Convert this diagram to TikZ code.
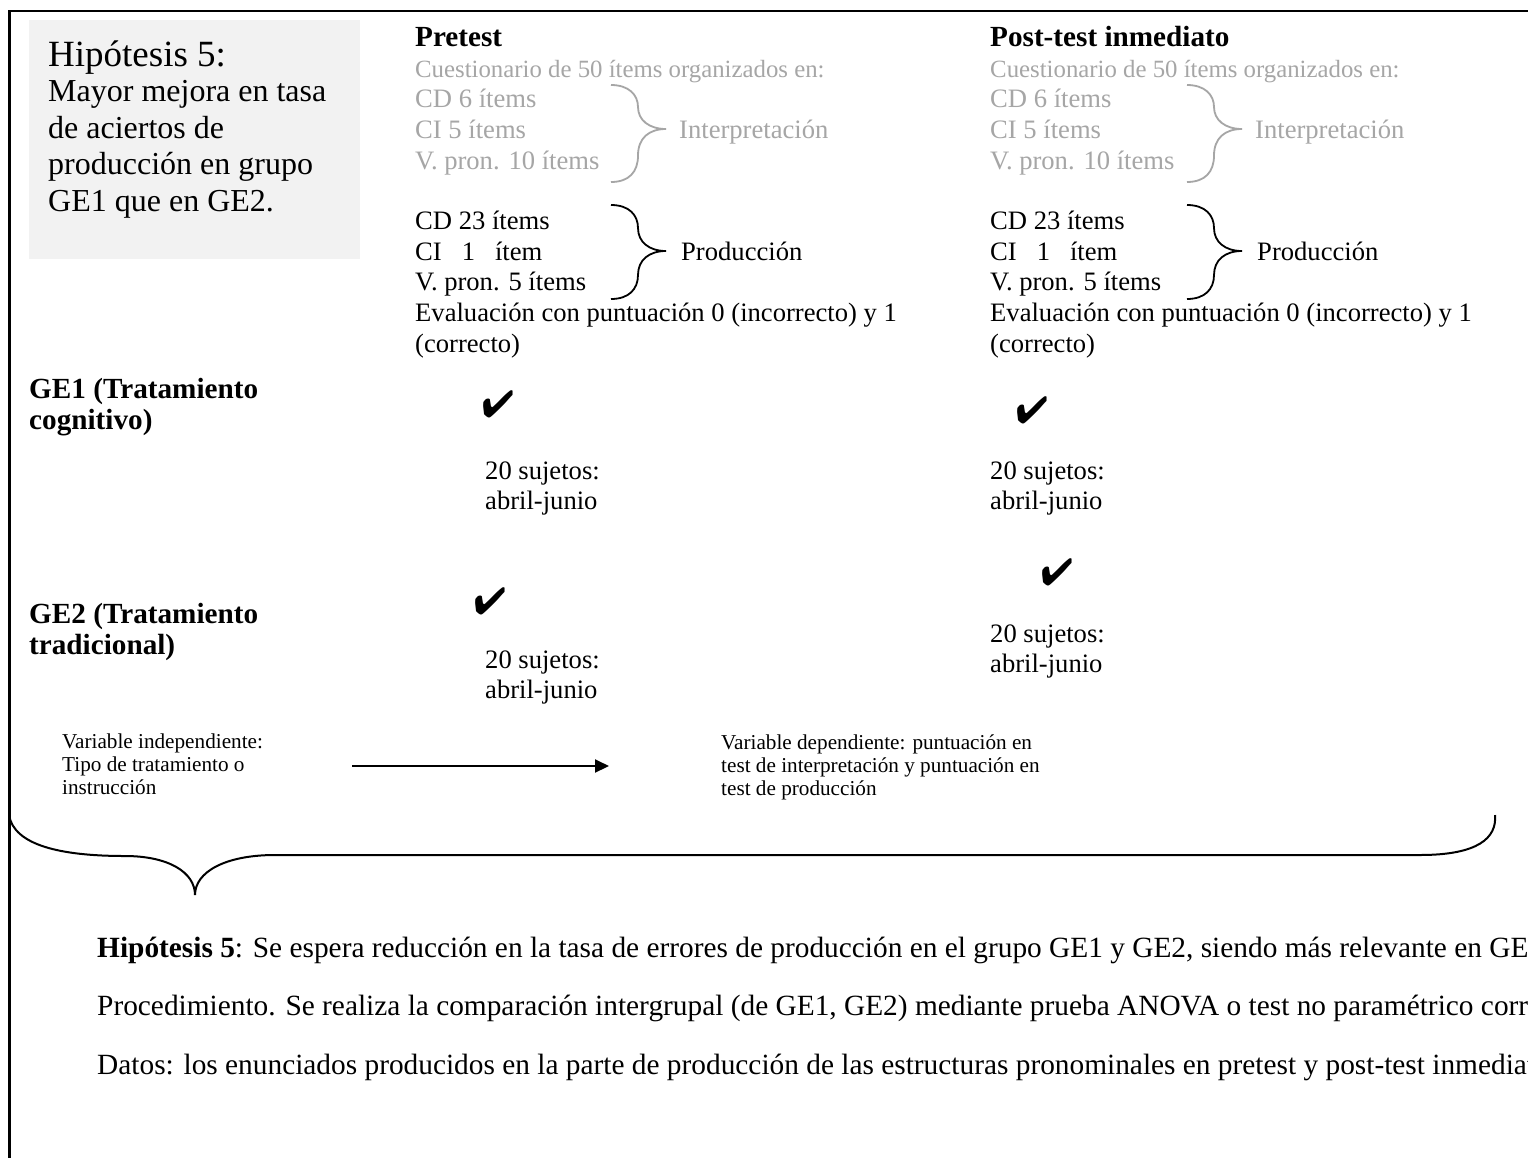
\documentclass[tikz,border=0pt]{standalone}
\usepackage{fontspec}
\setmainfont{Liberation Serif}
\usepackage{pifont}
\usetikzlibrary{arrows.meta}
\definecolor{gtext}{RGB}{166,166,166}
\definecolor{gbox}{RGB}{242,242,242}
\newcommand{\mkbrace}[5]{%
  \draw[#1] (#2,#3) .. controls ({#2+18},#3) and ({#2+27},{#3+10}) .. ({#2+27},{(#3+#4)/2})
    .. controls ({#2+27},{#4-9}) and ({#2+38},#4) .. ({#2+55},#4)
    .. controls ({#2+38},#4) and ({#2+27},{#4+9}) .. ({#2+27},{(#4+#5)/2})
    .. controls ({#2+27},{#5-10}) and ({#2+18},#5) .. (#2,#5);}
\newcommand{\cuestline}{{\fontsize{24.8}{30.6}\selectfont Cuestionario de 50 ítems organizados en:}}
\tikzset{
  txt/.style={inner sep=0pt, anchor=base west, align=left, font=\fontsize{26.6}{30.6}\selectfont},
  gtxt/.style={txt, text=gtext},
  big/.style={inner sep=0pt, anchor=base west, align=left, font=\fontsize{29.2}{31}\selectfont},
  bottom/.style={inner sep=0pt, anchor=base west, font=\fontsize{29.35}{31}\selectfont},
  subj/.style={txt, font=\fontsize{26.6}{29.5}\selectfont},
  small/.style={inner sep=0pt, anchor=base west, align=left, font=\fontsize{21.2}{22.6}\selectfont},
  chk/.style={inner sep=0pt, font=\fontsize{38}{38}\selectfont},
  brk/.style={line width=1.8pt, black},
  gbrk/.style={line width=1.8pt, gtext},
}
\begin{document}
\begin{tikzpicture}[x=1pt,y=-1pt]
\useasboundingbox (0,0) rectangle (1528,1157);
\begin{scope}
\clip (0,0) rectangle (1528,1157);
\fill[white] (0,0) rectangle (1528,1157);
% frame
\draw[line width=2.6pt] (9.5,1170) -- (9.5,11) -- (1540,11);
% grey hypothesis box
\fill[gbox] (29,20) rectangle (360,259);
\node[inner sep=0pt, anchor=base west, font=\fontsize{37}{40}\selectfont] (hyptitle) at (48,66) {Hipótesis 5:};
\node[inner sep=0pt, anchor=base west, align=left, font=\fontsize{32}{36.5}\selectfont] (hypbody) at (48,211)
  {Mayor mejora en tasa\\de aciertos de\\producción en grupo\\GE1 que en GE2.};
% Pretest column
\node[big] (pretitle) at (415,46) {\bfseries Pretest};
\node[gtxt] (preq) at (415,169) {\cuestline\\CD 6 ítems\\CI 5 ítems\\V. pron. 10 ítems};
\node[gtxt] (preinterp) at (679,138) {Interpretación};
\node[txt] (preprod) at (415,352) {CD 23 ítems\\CI\hspace*{20pt}1\hspace*{20pt}ítem\\V. pron. 5 ítems\\Evaluación con puntuación 0 (incorrecto) y 1\\(correcto)};
\node[txt] (preprodlab) at (681,260) {Producción};
\mkbrace{gbrk}{611}{85}{129}{182}
\mkbrace{brk}{611}{205}{251}{299}
% Post-test column
\node[big] (posttitle) at (990,46) {\bfseries Post-test inmediato};
\node[gtxt] (postq) at (990,169) {\cuestline\\CD 6 ítems\\CI 5 ítems\\V. pron. 10 ítems};
\node[gtxt] (postinterp) at (1255,138) {Interpretación};
\node[txt] (postprod) at (990,352) {CD 23 ítems\\CI\hspace*{20pt}1\hspace*{20pt}ítem\\V. pron. 5 ítems\\Evaluación con puntuación 0 (incorrecto) y 1\\(correcto)};
\node[txt] (postprodlab) at (1257,260) {Producción};
\mkbrace{gbrk}{1187}{85}{129}{182}
\mkbrace{brk}{1187}{205}{251}{299}
% groups
\node[big] (ge1) at (29,429) {\bfseries GE1 (Tratamiento\\\bfseries cognitivo)};
\node[big] (ge2) at (29,654) {\bfseries GE2 (Tratamiento\\\bfseries tradicional)};
% checks and subjects
\node[chk] (c11) at (498,404) {\ding{52}};
\node[chk] (c12) at (1032,410) {\ding{52}};
\node[chk] (c22) at (1057,572) {\ding{52}};
\node[chk] (c21) at (490,601) {\ding{52}};
\node[subj] (s11) at (485,509) {20 sujetos:\\abril-junio};
\node[subj] (s12) at (990,509) {20 sujetos:\\abril-junio};
\node[subj] (s21) at (485,698) {20 sujetos:\\abril-junio};
\node[subj] (s22) at (990,672) {20 sujetos:\\abril-junio};
% variables
\node[small] (vind) at (62,794) {Variable independiente:\\Tipo de tratamiento o\\instrucción};
\node[small] (vdep) at (721,795) {Variable dependiente: puntuación en\\test de interpretación y puntuación en\\test de producción};
\coordinate (arrS) at (352,766);
\coordinate (arrE) at (609,766);
\draw[line width=2pt, -{Triangle[length=14pt,width=13pt]}] (arrS) -- (arrE);
% big brace
\draw[line width=2pt] (9,815) .. controls (14,845) and (60,856) .. (125,856)
  .. controls (168,856) and (195,872) .. (195,895)
  .. controls (195,872) and (225,855) .. (275,855)
  -- (1420,855) .. controls (1478,855) and (1497,838) .. (1495,815);
% bottom text
\node[bottom] (h5) at (97,957) {\textbf{Hipótesis 5}: Se espera reducción en la tasa de errores de producción en el grupo GE1 y GE2, siendo más relevante en GE1.};
\node[bottom] (proc) at (97,1015) {Procedimiento. Se realiza la comparación intergrupal (de GE1, GE2) mediante prueba ANOVA o test no paramétrico correspondiente.};
\node[bottom] (datos) at (97,1074) {Datos: los enunciados producidos en la parte de producción de las estructuras pronominales en pretest y post-test inmediato.};
\end{scope}
\end{tikzpicture}
\end{document}
